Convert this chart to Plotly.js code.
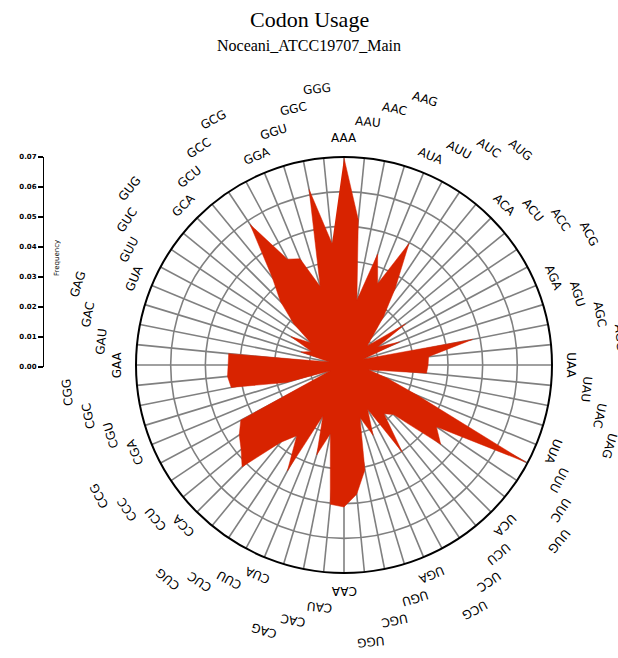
<!DOCTYPE html>
<html>
<head>
<meta charset="utf-8">
<script src="https://cdn.plot.ly/plotly-3.0.1.min.js"></script>
<style>html,body{margin:0;padding:0;background:#fff;}#chart{width:618px;height:658px;}</style>
</head>
<body>
<div id="chart"></div>
<script>
const codons = ["AAA","AAU","AAC","AAG","AUA","AUU","AUC","AUG","ACA","ACU","ACC","ACG","AGA","AGU","AGC","AGG",
"UAA","UAU","UAC","UAG","UUA","UUU","UUC","UUG","UCA","UCU","UCC","UCG","UGA","UGU","UGC","UGG",
"CAA","CAU","CAC","CAG","CUA","CUU","CUC","CUG","CCA","CCU","CCC","CCG","CGA","CGU","CGC","CGG",
"GAA","GAU","GAC","GAG","GUA","GUU","GUC","GUG","GCA","GCU","GCC","GCG","GGA","GGU","GGC","GGG"];
const frequency = [0.0697,0.0491,0.0222,0.0390,0.0296,0.0464,0.0310,0.0209,0.0135,0.0101,0.0249,0.0128,0.0202,0.0067,0.0441,0.0286,
0.0283,0.0279,0.0084,0.0151,0.0269,0.0693,0.0374,0.0421,0.0236,0.0212,0.0353,0.0168,0.0256,0.0185,0.0360,0.0437,
0.0478,0.0471,0.0236,0.0316,0.0185,0.0404,0.0286,0.0337,0.0485,0.0448,0.0424,0.0394,0.0050,0.0202,0.0387,0.0394,
0.0390,0.0390,0.0050,0.0151,0.0118,0.0202,0.0135,0.0219,0.0303,0.0380,0.0569,0.0404,0.0387,0.0276,0.0602,0.0411];
const radialMax = 0.07;
const scaleTicks = [0,0.01,0.02,0.03,0.04,0.05,0.06,0.07];
const titleText = "Codon Usage";
const subtitleText = "Noceani_ATCC19707_Main";

const W = 618, H = 658;
const px0 = 136, px1 = 552, py0 = 157, py1 = 573;
const cx = (px0 + px1) / 2, cy = (py0 + py1) / 2, R = (px1 - px0) / 2;

const annotations = [];
codons.forEach((c, i) => {
  const th = i * 360 / codons.length;
  const rad = th * Math.PI / 180;
  const r = R * 1.09 + (i % 4) * 17;
  let ang = th > 180 ? th - 360 : th;
  annotations.push({
    text: c, xref: 'paper', yref: 'paper',
    x: (cx + r * Math.sin(rad)) / W, y: 1 - (cy - r * Math.cos(rad)) / H,
    xanchor: 'center', yanchor: 'middle', showarrow: false, textangle: ang,
    font: {family: 'DejaVu Sans, sans-serif', size: 12, color: '#000'}
  });
});
annotations.push({text: titleText, xref:'paper', yref:'paper', x: 0.5, y: 1 - 20/H, xanchor:'center', yanchor:'middle', showarrow:false,
  font:{family:'Liberation Serif, serif', size:22, color:'#000'}});
annotations.push({text: subtitleText, xref:'paper', yref:'paper', x: 0.5, y: 1 - 45/H, xanchor:'center', yanchor:'middle', showarrow:false,
  font:{family:'Liberation Serif, serif', size:16, color:'#000'}});
annotations.push({text: 'Frequency', xref:'paper', yref:'paper', x: 57/W, y: 1 - 258/H, xanchor:'center', yanchor:'middle', showarrow:false, textangle:-90,
  font:{family:'DejaVu Sans, sans-serif', size:7, color:'#000'}});

const traces = [
  {type:'scatterpolar', r: frequency, theta: codons, mode:'lines', fill:'toself',
   fillcolor:'#D82300', line:{color:'#D82300', width:0.5}, hoverinfo:'theta+r', showlegend:false},
  {type:'scatter', x:[null], y:[null], xaxis:'x', yaxis:'y', showlegend:false, hoverinfo:'skip'}
];

const layout = {
  width: W, height: H,
  margin:{l:0,r:0,t:0,b:0},
  paper_bgcolor:'#fff', plot_bgcolor:'rgba(0,0,0,0)',
  showlegend:false,
  polar:{
    domain:{x:[px0/W, px1/W], y:[1-py1/H, 1-py0/H]},
    bgcolor:'#fff',
    angularaxis:{type:'category', categoryarray: codons, direction:'clockwise', rotation:90,
      showticklabels:false, ticks:'', showline:true, linecolor:'#000', linewidth:2,
      showgrid:true, gridcolor:'#808080', gridwidth:1.6},
    radialaxis:{range:[0, radialMax], tick0:0, dtick: radialMax/6, showticklabels:false, ticks:'',
      showline:false, showgrid:true, gridcolor:'#808080', gridwidth:1.6}
  },
  xaxis:{domain:[43/W, 44/W], visible:false, range:[0,1], fixedrange:true},
  yaxis:{domain:[1-367/H, 1-157/H], range:[0, radialMax], anchor:'free', position:43/W,
    tickvals: scaleTicks, tickformat:'.2f', ticks:'outside', ticklen:5, tickwidth:1.2, tickcolor:'#000',
    showline:true, linecolor:'#000', linewidth:1.4, showgrid:false, zeroline:false,
    tickfont:{family:'DejaVu Sans, sans-serif', size:7, color:'#000', weight:'bold'}},
  annotations: annotations
};

Plotly.newPlot('chart', traces, layout, {staticPlot:true, displayModeBar:false});
</script>
</body>
</html>
